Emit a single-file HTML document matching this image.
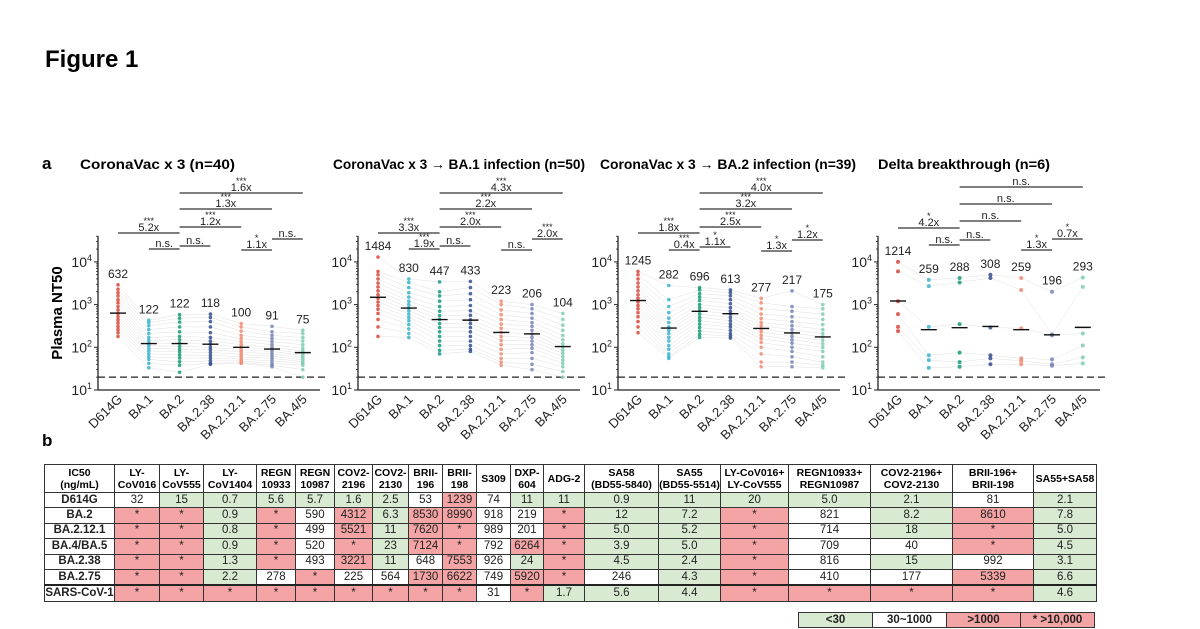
<!DOCTYPE html>
<html><head><meta charset="utf-8">
<style>
html,body{margin:0;padding:0;background:#fff;}
body{width:1200px;height:629px;position:relative;overflow:hidden;font-family:"Liberation Sans",Arial,sans-serif;}
#fig{position:absolute;left:0;top:0;}
table{position:absolute;left:44px;top:464px;border-collapse:collapse;table-layout:fixed;font-family:"Liberation Sans",Arial,sans-serif;}
td,th{border:1px solid #333;padding:0;text-align:center;overflow:hidden;white-space:nowrap;}
th{font-size:10.5px;font-weight:bold;height:27px;line-height:12px;}
td{font-size:11.5px;height:14.4px;line-height:13px;color:#222;}
td.rn{font-weight:bold;}
.g{background:#d9ead3;} .r{background:#f4a4a4;} .w{background:#fff;}
#legend{position:absolute;left:798px;top:612px;border-collapse:collapse;}
#legend td{width:73px;height:14px;font-weight:bold;font-size:11.5px;border:1px solid #333;}
</style></head>
<body>
<svg id="fig" width="1200" height="629" xmlns="http://www.w3.org/2000/svg">
<text x="45" y="67" font-size="24" font-weight="bold" font-family="Liberation Sans">Figure 1</text>
<text x="42" y="169" font-size="17" font-weight="bold" font-family="Liberation Sans">a</text>
<text x="42" y="446" font-size="17" font-weight="bold" font-family="Liberation Sans">b</text>
<text transform="translate(62,313) rotate(-90)" text-anchor="middle" font-size="15" font-weight="bold" font-family="Liberation Sans">Plasma NT50</text>
<g id="charts"></g>
</svg>

<table id="ic50"></table>
<table id="legend"><tr>
<td class="g">&lt;30</td>
<td class="w">30~1000</td>
<td class="r">&gt;1000</td>
<td class="r">* &gt;10,000</td></tr></table>

<script>
// ---------- chart data ----------
const categories = ["D614G","BA.1","BA.2","BA.2.38","BA.2.12.1","BA.2.75","BA.4/5"];
const panelTitles = ["CoronaVac x 3 (n=40)","CoronaVac x 3 \u2192 BA.1 infection (n=50)","CoronaVac x 3 \u2192 BA.2 infection (n=39)","Delta breakthrough (n=6)"];
const gmtP1 = [632,122,122,118,100,91,75];
const gmtP2 = [1484,830,447,433,223,206,104];
const gmtP3 = [1245,282,696,613,277,217,175];
const gmtP4 = [1214,259,288,308,259,196,293];
const dotsP1 = [
 [2900,2300,1900,1600,1300,1100,900,750,620,520,440,370,310,260,220,180],
 [430,380,320,260,210,170,145,125,110,95,82,70,60,52,42,33],
 [580,480,390,300,230,180,150,125,105,90,78,66,56,46,38,26],
 [600,500,400,300,220,170,140,118,100,88,76,65,56,48,42,40],
 [360,300,240,190,160,135,115,100,88,78,68,60,53,48,44,42],
 [310,230,190,160,135,115,100,90,80,70,62,55,48,42,38,35],
 [250,210,170,140,115,95,82,72,64,57,51,46,42,38,30,20]];
const dotsP2 = [
 [13000,6000,5000,4000,3200,2600,2100,1700,1400,1150,950,780,620,450,300,180],
 [4000,3300,2500,1900,1500,1200,1000,850,720,600,500,420,340,270,210,170],
 [3400,2000,1600,1200,900,700,550,450,360,290,230,180,140,110,85,70],
 [3500,2500,1800,1300,950,720,560,440,360,290,230,180,140,110,90,80],
 [1200,1000,750,580,450,350,280,225,180,145,115,90,70,55,45,38],
 [1000,800,620,480,380,310,250,205,170,140,115,95,75,55,40,30],
 [620,450,330,250,190,150,120,100,85,72,60,50,42,35,27,20]];
const dotsP3 = [
 [6000,5000,4000,3200,2600,2100,1700,1400,1150,950,800,650,520,400,300,220],
 [2800,1300,900,650,480,380,300,250,210,170,140,110,90,70,60,55],
 [2500,2200,1800,1500,1250,1000,850,720,600,500,420,350,290,240,200,170],
 [2200,1900,1600,1300,1050,850,700,600,500,420,350,300,250,210,185,165],
 [1400,1100,800,600,470,380,320,270,230,190,160,130,100,70,45,35],
 [2100,900,700,520,400,320,260,215,180,150,125,100,80,60,45,35],
 [1000,800,600,450,340,260,210,175,145,120,100,80,60,45,38,33]];
const dotsP4 = [
 [10000,6000,1200,600,300,240],
 [3800,2700,300,65,50,33],
 [4200,3300,350,75,45,35],
 [5000,4200,290,65,55,40],
 [4200,2200,280,55,48,40],
 [2000,200,190,52,40,37],
 [4300,2600,210,110,58,42]];
const pairsFrom = [0,1,2,2,2,2,4,5];
const pairsTo   = [2,2,3,4,5,6,5,6];
const starsP1 = ["***","","","***","***","***","*",""];
const foldP1  = ["5.2x","n.s.","n.s.","1.2x","1.3x","1.6x","1.1x","n.s."];
const starsP2 = ["***","***","","***","***","***","","***"];
const foldP2  = ["3.3x","1.9x","n.s.","2.0x","2.2x","4.3x","n.s.","2.0x"];
const starsP3 = ["***","***","*","***","***","***","*","*"];
const foldP3  = ["1.8x","0.4x","1.1x","2.5x","3.2x","4.0x","1.3x","1.2x"];
const starsP4 = ["*","","","","","","*","*"];
const foldP4  = ["4.2x","n.s.","n.s.","n.s.","n.s.","n.s.","1.3x","0.7x"];
const yTickExps = [1,2,3,4];
const threshold = 20;

const colors = ["#d9483b","#3cb4cc","#169a7c","#34508e","#f08c72","#7886b6","#7fcdb4"];
const bracketY = [[233,249,246,227,209,193,250,239],[233,249,246,227,209,193,250,239],[233,250,247,227,209,193,251,240],[228,245,240,221,204,187,250,239]];
const titleX = [80,333,600,878];
const titleLen = [155,252,256,172];
const NS="http://www.w3.org/2000/svg";
const root=document.getElementById('charts');
function mk(tag,attrs,parent){const e=document.createElementNS(NS,tag);for(const k in attrs)e.setAttribute(k,attrs[k]);(parent||root).appendChild(e);return e;}
function yScale(v){return 390-42.7*(Math.log10(v)-1);}
const panels=[[gmtP1,dotsP1,starsP1,foldP1],[gmtP2,dotsP2,starsP2,foldP2],[gmtP3,dotsP3,starsP3,foldP3],[gmtP4,dotsP4,starsP4,foldP4]];
panels.forEach((p,pi)=>{
  const off=260*pi, ax=98+off;
  const xScale=i=>118+off+30.8*i;
  const g=mk('g',{});
  
  
  const t=mk('text',{x:titleX[pi],y:169,'font-size':14,'font-weight':'bold','font-family':'Liberation Sans',textLength:titleLen[pi],lengthAdjust:'spacingAndGlyphs'},g);
  t.textContent=panelTitles[pi];
  
  
  const ya=mk('line',{x1:ax,y1:236,x2:ax,y2:390,stroke:'#222','stroke-width':1.3},g);
  
  
  const xa=mk('line',{x1:ax,y1:390,x2:ax+222,y2:390,stroke:'#222','stroke-width':1.3},g);
  
  
  yTickExps.forEach(e=>{
    const y=yScale(Math.pow(10,e));
    mk('line',{x1:ax-4,y1:y,x2:ax,y2:y,stroke:'#222','stroke-width':1},g);
    const tl=mk('text',{x:ax-6,y:y+5,'text-anchor':'end','font-size':14,'font-family':'Liberation Sans',fill:'#222'},g);
    tl.innerHTML='10<tspan dy="-6" font-size="9">'+e+'</tspan>';
    
    
    for(let m=2;m<=9;m++){const v=m*Math.pow(10,e);if(yScale(v)<236)break;const yy=yScale(v);
      mk('line',{x1:ax-2,y1:yy,x2:ax,y2:yy,stroke:'#222','stroke-width':0.8},g);}
  });
  const dl=mk('line',{x1:ax,y1:yScale(threshold),x2:ax+230,y2:yScale(threshold),stroke:'#222','stroke-width':1.2,'stroke-dasharray':'7,4'},g);
  
  
  const [gmt,dots,stars,fold]=p;
  const n=dots[0].length;
  for(let k=0;k<n;k++){
    let pts=dots.map((c,i)=>xScale(i)+','+yScale(c[k])).join(' ');
    mk('polyline',{points:pts,fill:'none',stroke:'#ccc','stroke-width':0.5,opacity:0.6},g);
  }
  dots.forEach((col,i)=>{
    col.forEach(v=>{
      const c=mk('circle',{cx:xScale(i),cy:yScale(v),r:pi==3?2:1.8,fill:colors[i],opacity:0.85},g);
      
      
    });
    const gy=yScale(gmt[i]);
    const ml=mk('line',{x1:xScale(i)-8,y1:gy,x2:xScale(i)+8,y2:gy,stroke:'#111','stroke-width':1.4},g);
    
    
    const maxv=Math.max(...col);
    const vl=mk('text',{x:xScale(i),y:yScale(maxv)-7,'text-anchor':'middle','font-size':12,'font-family':'Liberation Sans',fill:'#222'},g);
    vl.textContent=gmt[i];
    
    
    const xl=mk('text',{transform:'translate('+(xScale(i)+5)+',400) rotate(-45)','text-anchor':'end','font-size':13,'font-family':'Liberation Sans',fill:'#222'},g);
    xl.textContent=categories[i];
    
    
  });
  pairsFrom.forEach((a,k)=>{
    const b=pairsTo[k], y=bracketY[pi][k];
    const bl=mk('line',{x1:xScale(a),y1:y,x2:xScale(b),y2:y,stroke:'#333','stroke-width':1.3},g);
    
    
    const cx=(xScale(a)+xScale(b))/2;
    const ft=mk('text',{x:cx,y:y-2,'text-anchor':'middle','font-size':11,'font-family':'Liberation Sans',fill:'#222'},g);
    ft.textContent=fold[k];
    
    
    if(stars[k]){const st=mk('text',{x:cx,y:y-9,'text-anchor':'middle','font-size':9,'font-family':'Liberation Sans',fill:'#222'},g);
      st.textContent=stars[k];
      
      }
  });
});

// ---------- table ----------
const colHeads=["IC50<br>(ng/mL)","LY-<br>CoV016","LY-<br>CoV555","LY-<br>CoV1404","REGN<br>10933","REGN<br>10987","COV2-<br>2196","COV2-<br>2130","BRII-<br>196","BRII-<br>198","S309","DXP-<br>604","ADG-2","SA58<br>(BD55-5840)","SA55<br>(BD55-5514)","LY-CoV016+<br>LY-CoV555","REGN10933+<br>REGN10987","COV2-2196+<br>COV2-2130","BRII-196+<br>BRII-198","SA55+SA58"];
const colW=[70,45,44,53,39,39,38,36,34,34,34,33,41,74,62,68,82,82,81,63];
const rowNames=["D614G","BA.2","BA.2.12.1","BA.4/BA.5","BA.2.38","BA.2.75","SARS-CoV-1"];
const rowVals=[
"32w 15g 0.7g 5.6g 5.7g 1.6g 2.5g 53w 1239r 74w 11g 11g 0.9g 11g 20g 5.0g 2.1g 81w 2.1g",
"*r *r 0.9g *r 590w 4312r 6.3g 8530r 8990r 918w 219w *r 12g 7.2g *r 821w 8.2g 8610r 7.8g",
"*r *r 0.8g *r 499w 5521r 11g 7620r *r 989w 201w *r 5.0g 5.2g *r 714w 18g *r 5.0g",
"*r *r 0.9g *r 520w *r 23g 7124r *r 792w 6264r *r 3.9g 5.0g *r 709w 40w *r 4.5g",
"*r *r 1.3g *r 493w 3221r 11g 648w 7553r 926w 24g *r 4.5g 2.4g *r 816w 15g 992w 3.1g",
"*r *r 2.2g 278w *r 225w 564w 1730r 6622r 749w 5920r *r 246w 4.3g *r 410w 177w 5339r 6.6g",
"*r *r *r *r *r *r *r *r *r 31w *r 1.7g 5.6g 4.4g *r *r *r *r 4.6g"];
const tb=document.getElementById('ic50');
const cg=document.createElement('colgroup');
colW.forEach(w=>{const c=document.createElement('col');c.style.width=w+'px';cg.appendChild(c);});
tb.appendChild(cg);
const hr=document.createElement('tr');
colHeads.forEach(h=>{const th=document.createElement('th');th.innerHTML=h;
  
  
  hr.appendChild(th);});
tb.appendChild(hr);
rowNames.forEach((rn,ri)=>{
  const tr=document.createElement('tr');
  const td=document.createElement('td');td.className='rn w';td.textContent=rn;
  
  
  tr.appendChild(td);
  rowVals[ri].split(' ').forEach(s=>{
    const c=document.createElement('td');
    c.className=s.slice(-1);c.textContent=s.slice(0,-1);
    
    
    tr.appendChild(c);
  });
  if(ri==6) tr.style.borderTop='2px solid #222';
  tb.appendChild(tr);
});
tb.style.border='1.5px solid #222';
</script>
</body></html>
